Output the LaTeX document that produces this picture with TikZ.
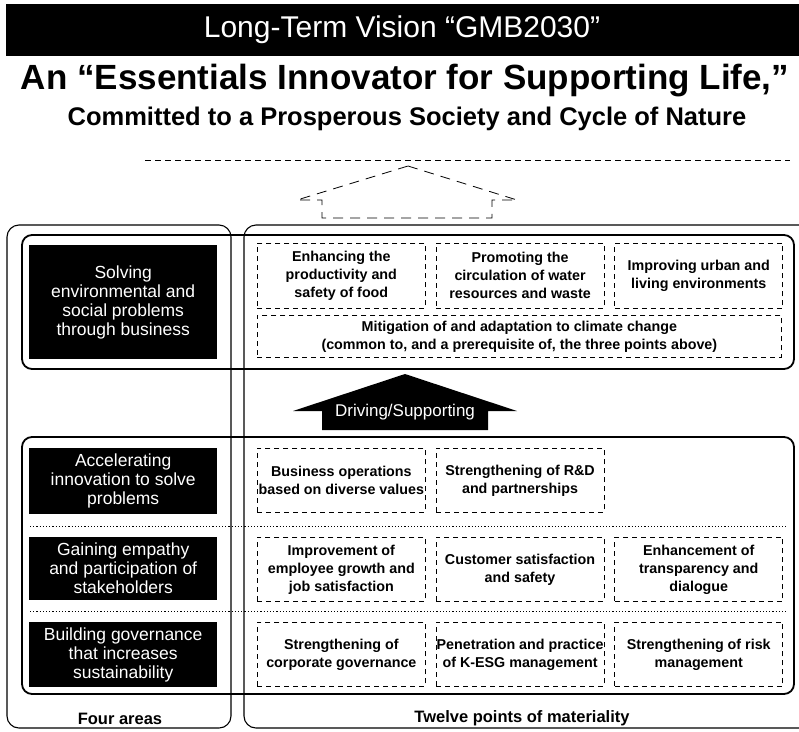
\documentclass[tikz,border=0pt]{standalone}
\usepackage{fontspec}
\setmainfont{Liberation Sans}
\usetikzlibrary{positioning,calc}

\begin{document}
\begin{tikzpicture}[
    x=1pt, y=-1pt,
    node distance=10pt,
    base/.style={rectangle, align=center, inner sep=0pt, anchor=north west},
    area/.style={base, fill=black, text=white, minimum width=188pt,
                 font=\fontsize{17.5}{19}\selectfont},
    point/.style={base, draw, line width=0.7pt, dash pattern=on 5pt off 4pt,
                  minimum width=168pt, minimum height=64pt,
                  font=\bfseries\fontsize{14.3}{18}\selectfont},
    frame/.style={rounded corners=12pt, line width=1.1pt},
    group/.style={rounded corners=10pt, line width=1.8pt},
    sep/.style={line width=1pt, dash pattern=on 1.2pt off 2pt},
    caption/.style={font=\bfseries\fontsize{16.5}{17}\selectfont},
]
\useasboundingbox (0,0) rectangle (799,731);
\clip (0,0) rectangle (799,731);

% ---------------- Heading ----------------
\fill (6,4) rectangle (799,56);
\node[text=white, font=\fontsize{30}{30}\selectfont] (vision) at (402,30)
  {Long-Term Vision “GMB2030”};
\node[font=\bfseries\fontsize{35}{35}\selectfont] (slogan) at (405,81)
  {An “Essentials Innovator for Supporting Life,”};
\node[font=\bfseries\fontsize{25.5}{26}\selectfont] (sub) at (407,119)
  {Committed to a Prosperous Society and Cycle of Nature};

\draw[line width=0.8pt, dash pattern=on 6pt off 4pt] (145,160) -- (790,160);
\draw[line width=0.8pt, dash pattern=on 10pt off 7pt]
  (408,166) -- (517,200) -- (492,200) -- (492,218) -- (322,218)
  -- (322,200) -- (297,200) -- cycle;

% ---------------- Frames ----------------
\draw[frame] (7,225) rectangle (231,728);
\draw[frame] (244,225) rectangle (840,728);
\draw[group] (22,235) rectangle (794,369);
\draw[group] (22,437) rectangle (794,694);

\node[caption] (four) at (120,719) {Four areas};
\node[caption] (twelve) at (522,718) {Twelve points of materiality};

% ---------------- Business area ----------------
\node[area, minimum height=114pt] (solve) at (29,245)
  {Solving\\environmental and\\social problems\\through business};

\node[point, minimum height=65pt] (food) at (257,243)
  {Enhancing the\\productivity and\\safety of food};
\node[point, minimum height=65pt, right=of food] (water)
  {Promoting the\\circulation of water\\resources and waste};
\node[point, minimum height=65pt, right=of water] (urban)
  {Improving urban and\\living environments};
\node[point, minimum width=524pt, minimum height=42pt] (climate) at (257,315)
  {Mitigation of and adaptation to climate change\\
   (common to, and a prerequisite of, the three points above)};

% ---------------- Driving arrow ----------------
\fill (405,374) -- (517,411) -- (488,411) -- (488,430) -- (322,430)
  -- (322,411) -- (293,411) -- cycle;
\node[text=white, font=\fontsize{17}{17}\selectfont] (drive) at (405,412)
  {Driving/Supporting};

% ---------------- Foundation areas ----------------
\node[area, minimum height=66pt] (accel) at (29,448)
  {Accelerating\\innovation to solve\\problems};
\node[area, minimum height=63pt] (empathy) at (29,537)
  {Gaining empathy\\and participation of\\stakeholders};
\node[area, minimum height=65pt] (govern) at (29,622)
  {Building governance\\that increases\\sustainability};

\node[point] (diverse) at (257,448)
  {Business operations\\based on diverse values};
\node[point, right=of diverse] (rnd)
  {Strengthening of R\&D\\and partnerships};

\node[point] (growth) at (257,537)
  {Improvement of\\employee growth and\\job satisfaction};
\node[point, right=of growth] (customer)
  {Customer satisfaction\\and safety};
\node[point, right=of customer] (dialogue)
  {Enhancement of\\transparency and\\dialogue};

\node[point] (cgov) at (257,622)
  {Strengthening of\\corporate governance};
\node[point, right=of cgov] (kesg)
  {Penetration and practice\\of K-ESG management};
\node[point, right=of kesg] (risk)
  {Strengthening of risk\\management};

\foreach \y in {526, 611}
  \draw[sep] (30,\y) -- (786,\y);

\end{tikzpicture}
\end{document}
